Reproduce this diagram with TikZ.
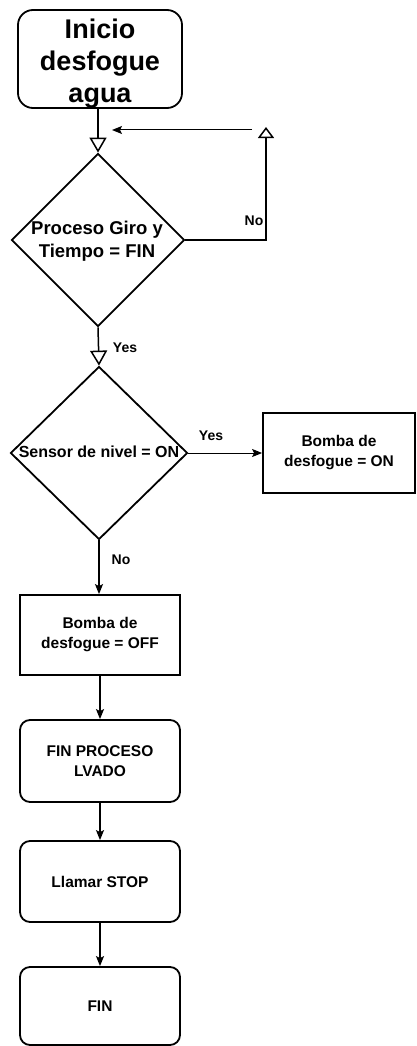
\documentclass[tikz,border=0pt]{standalone}
\usepackage{fontspec}
\setmainfont{Liberation Sans}
\usetikzlibrary{arrows.meta,shapes.geometric}
\begin{document}
\begin{tikzpicture}[x=1pt,y=-1pt,
  boxtext/.style={font=\bfseries\fontsize{15.5}{20}\selectfont},
  sqbox/.style={draw, line width=1.8pt, align=center, inner sep=0pt, boxtext},
  rbox/.style={sqbox, rounded corners=10pt},
  dia/.style={draw, diamond, line width=1.8pt, inner sep=0pt, aspect=1},
  lbl/.style={font=\bfseries\fontsize{14}{16}\selectfont, inner sep=0pt},
  mainline/.style={line width=1.5pt},
  opentip/.style={-{Triangle[open,length=15pt,width=17pt,line width=1.5pt]}},
  filltip/.style={-{Stealth[length=10pt,width=8pt,inset=2pt]}}
]
\useasboundingbox (0,0) rectangle (416,1046);

% nodes
\node[sqbox, rounded corners=15pt, minimum width=164pt, minimum height=98pt] (start) at (100,59) {};
\node[font=\bfseries\fontsize{27}{32}\selectfont, align=center, inner sep=0pt] (st) at (100,64) {Inicio\\desfogue\\agua};
\node[dia, minimum width=173pt, minimum height=173pt] (d1) at (98,240) {};
\node[font=\bfseries\fontsize{18.5}{23}\selectfont, align=center, inner sep=0pt] (t1) at (97,241) {Proceso Giro y\\Tiempo = FIN};
\node[dia, minimum width=177pt, minimum height=173pt] (d2) at (99,453) {};
\node[font=\bfseries\fontsize{16}{20}\selectfont, inner sep=0pt] (t2) at (99,452) {Sensor de nivel = ON};
\node[sqbox, minimum width=152pt, minimum height=80pt] (on) at (339,453) {Bomba de\\desfogue = ON};
\node[sqbox, minimum width=160pt, minimum height=80pt] (off) at (100,635) {Bomba de\\desfogue = OFF};
\node[rbox, minimum width=160pt, minimum height=82pt] (fp) at (100,761) {FIN PROCESO\\LVADO};
\node[rbox, minimum width=160pt, minimum height=81pt] (stop) at (100,881.5) {Llamar STOP};
\node[rbox, minimum width=160pt, minimum height=78pt] (fin) at (100,1006) {FIN};

\coordinate (loopTop) at (266,127);
\coordinate (loopA) at (252,130);
\coordinate (loopB) at (112,130);

% connectors
\draw[mainline, opentip] (start.south -| d1.north) -- (d1.north);
\draw[mainline, -{Triangle[open,length=11pt,width=16pt,line width=1.5pt]}] (d1.east) -| (loopTop);
\draw[line width=1pt, filltip] (loopA) -- (loopB);
\node[lbl] (no1) at (254,221) {No};
\draw[mainline, opentip] (d1.south) -- (d2.north);
\node[lbl] (yes1) at (125,348) {Yes};
\draw[line width=1pt, filltip] (d2.east) -- (on.west);
\node[lbl] (yes2) at (211,436) {Yes};
\draw[mainline, filltip] (d2.south) -- (d2.south |- off.north);
\node[lbl] (no2) at (121,560) {No};
\draw[mainline, filltip] (off) -- (fp);
\draw[mainline, filltip] (fp) -- (stop);
\draw[mainline, filltip] (stop) -- (fin);
\end{tikzpicture}
\end{document}
